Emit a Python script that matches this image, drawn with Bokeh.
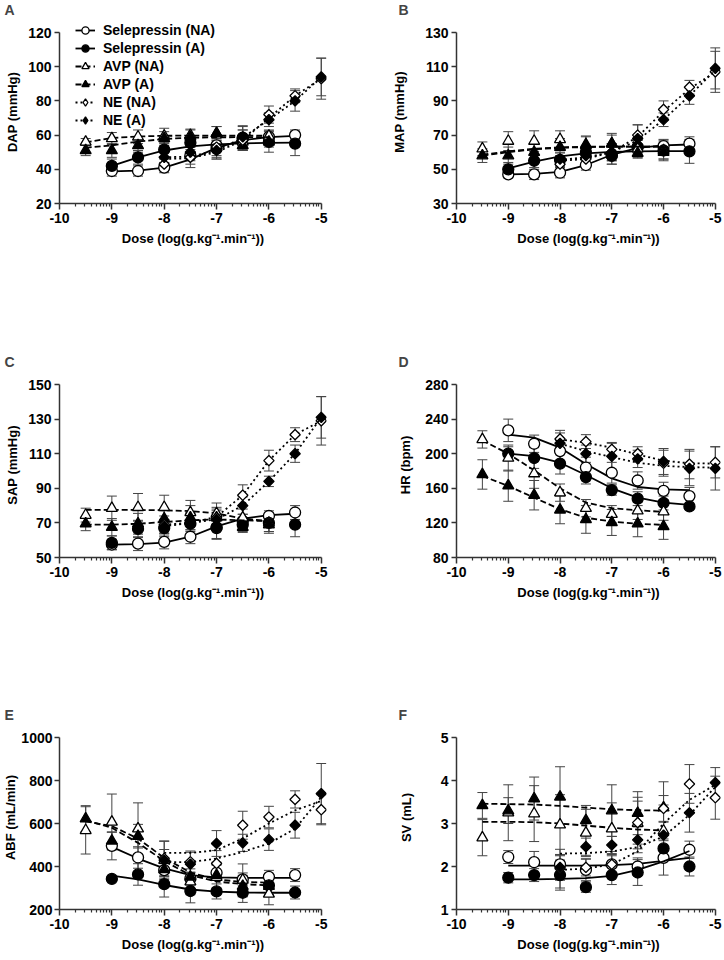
import numpy as np
from bokeh.plotting import figure
from bokeh.models import (Range1d, FixedTicker, ColumnDataSource, Whisker, TeeHead,
                          Legend, LegendItem)
from bokeh.layouts import column, row
from bokeh.embed import file_html
from bokeh.resources import INLINE

FONT = "Liberation Sans"

# ---------------- doses (log g/kg/min) ----------------
DOSE_SEL = [-9.0, -8.5, -8.0, -7.5, -7.0, -6.5, -6.0, -5.5]
DOSE_AVP = [-9.5, -9.0, -8.5, -8.0, -7.5, -7.0, -6.5, -6.0]
DOSE_NE = [-8.0, -7.5, -7.0, -6.5, -6.0, -5.5, -5.0]
X_TICKS = [-10, -9, -8, -7, -6, -5]
SERIES_NAMES = ["Selepressin (NA)", "Selepressin (A)", "AVP (NA)", "AVP (A)", "NE (NA)", "NE (A)"]
X_TITLE = "Dose (log(g.kg\u207b\u00b9.min\u207b\u00b9))"

# ---------------- A: DAP ----------------
DAP_SEL_NA = [39, 39, 41, 48, 54, 58, 59, 60]
DAP_SEL_NA_E = [3, 3, 3, 5, 6, 5, 4, 3]
DAP_SEL_NA_F = [38.8, 39.2, 41, 45.8, 52.5, 57, 58.8, 59.5]
DAP_SEL_A = [42, 47, 51.5, 55.5, 52, 58.5, 56, 55]
DAP_SEL_A_E = [4, 4, 4, 4, 6, 7, 6, 7]
DAP_SEL_A_F = [42, 47, 51, 53.4, 54.6, 55.2, 55.5, 55.6]
DAP_AVP_NA = [56, 58, 59, 59.5, 60, 61, 56, 59.5]
DAP_AVP_NA_E = [2, 3.5, 4, 4.5, 3.5, 4, 4, 3]
DAP_AVP_NA_F = [55.8, 58.3, 59.2, 59.6, 59.7, 59.7, 59.7, 59.7]
DAP_AVP_A = [51, 51, 54, 58, 59, 61, 54, 56]
DAP_AVP_A_E = [3, 4, 4, 4, 4, 4, 3, 3]
DAP_AVP_A_F = [52.6, 54, 56.2, 57.7, 58.5, 58.7, 58.8, 58.8]
DAP_NE_NA = [43, 47, 53, 57, 72, 83, 93]
DAP_NE_NA_E = [3, 6, 6, 6, 5, 4, 12]
DAP_NE_NA_F = [46, 46.5, 50, 57, 70, 83, 93]
DAP_NE_A = [47, 50, 51, 59, 69, 80, 94]
DAP_NE_A_E = [3, 5, 5, 6, 4, 6, 11]
DAP_NE_A_F = [47, 47.5, 51, 58.5, 69, 80, 94]

# ---------------- B: MAP ----------------
MAP_SEL_NA = [47, 47, 48, 52.5, 58, 63, 63.5, 65]
MAP_SEL_NA_E = [2, 3, 3, 3, 5, 4, 4, 4]
MAP_SEL_NA_F = [47, 47.3, 48.5, 52.5, 58.5, 62.5, 64, 64.5]
MAP_SEL_A = [50, 55, 55.5, 60, 58, 63, 61, 60.5]
MAP_SEL_A_E = [4, 4, 4, 4, 5, 5, 6, 7]
MAP_SEL_A_F = [50.5, 54.5, 57.5, 59.3, 60.2, 60.5, 60.6, 60.6]
MAP_AVP_NA = [62, 66.5, 66.5, 67.5, 64, 65, 62, 61]
MAP_AVP_NA_E = [4, 5.5, 6, 5, 5, 6, 5, 5]
MAP_AVP_NA_F = [58.5, 60.5, 62, 62.8, 63.2, 63.3, 63.3, 63.3]
MAP_AVP_A = [58, 58, 60, 63, 64.5, 65, 59.5, 60]
MAP_AVP_A_E = [4, 5, 5, 5, 5, 5, 3, 4]
MAP_AVP_A_F = [58, 60, 61.7, 62.6, 63, 63.2, 63.3, 63.3]
MAP_NE_NA = [53, 56, 60, 70, 85, 98, 107]
MAP_NE_NA_E = [4, 4, 5, 6, 5, 4, 12]
MAP_NE_NA_F = [55, 56, 60, 69, 84, 97, 107]
MAP_NE_A = [56, 58, 60, 68, 79, 93, 109]
MAP_NE_A_E = [4, 4, 5, 8, 4, 5, 12]
MAP_NE_A_F = [55.5, 57, 60, 67, 79, 93, 108]

# ---------------- C: SAP ----------------
SAP_SEL_NA = [57.5, 58, 59, 62, 67, 71, 74, 76]
SAP_SEL_NA_E = [3, 4, 4, 4, 6, 4, 3, 4]
SAP_SEL_NA_F = [57.5, 57.7, 58.6, 62, 68, 72.5, 74.5, 75.3]
SAP_SEL_A = [58.5, 66.5, 67, 69.5, 67.5, 69, 70, 69]
SAP_SEL_A_E = [4, 5, 5, 6, 7, 4, 6, 7]
SAP_SEL_A_F = None
SAP_AVP_NA = [74.5, 78.5, 79, 79, 76, 75.5, 73, 70]
SAP_AVP_NA_E = [4, 7, 8, 7, 7, 6, 5, 5]
SAP_AVP_NA_F = [77.5, 77.5, 77.5, 77.3, 76.8, 75.5, 72.5, 71]
SAP_AVP_A = [69.5, 67.5, 69.5, 72.5, 73, 73, 67.5, 69]
SAP_AVP_A_E = [4, 5, 6, 5, 7, 5, 3, 4]
SAP_AVP_A_F = [69, 69, 69.5, 70.5, 71.5, 72, 71.5, 71]
SAP_NE_NA = [69, 70, 73, 86, 106, 121, 129]
SAP_NE_NA_E = [5, 6, 6, 6, 6, 4, 14]
SAP_NE_NA_F = [69, 70, 73.5, 86, 106, 121, 129]
SAP_NE_A = [68, 70, 72, 80, 94, 110, 131]
SAP_NE_A_E = [4, 5, 5, 5, 3, 5, 12]
SAP_NE_A_F = [68, 70, 72, 80, 94, 110, 131]

# ---------------- D: HR ----------------
HR_SEL_NA = [227, 211.5, 203, 184, 178, 169, 157, 151]
HR_SEL_NA_E = [13, 10, 12, 12, 12, 10, 10, 10]
HR_SEL_NA_F = [222, 218.5, 207, 188, 171.5, 161.5, 158.8, 158]
HR_SEL_A = [200, 195, 188.5, 173, 158, 148, 143, 139]
HR_SEL_A_E = [8, 12, 12, 8, 6, 8, 8, 2]
HR_SEL_A_F = [200, 197.3, 189.6, 175.4, 160, 149.2, 143.5, 140.8]
HR_AVP_NA = [216.5, 195, 177, 155, 137, 130, 134, 133]
HR_AVP_NA_E = [10, 15, 17, 10, 10, 10, 10, 10]
HR_AVP_NA_F = [215.4, 200, 180.8, 160, 143.5, 137, 134.6, 132.7]
HR_AVP_A = [176, 163, 152, 135, 124, 120.5, 119, 116]
HR_AVP_A_E = [17, 18, 17, 16, 16, 15, 15, 15]
HR_AVP_A_F = [174.2, 162.7, 149.2, 135.8, 126, 121.5, 119, 117.7]
HR_NE_NA = [217, 214, 205, 200, 189, 188, 190]
HR_NE_NA_E = [10, 8, 8, 8, 15, 17, 18]
HR_NE_NA_F = [216.5, 212.7, 207, 199, 192, 189, 188.5]
HR_NE_A = [212, 200, 197, 194, 191, 183, 183]
HR_NE_A_E = [12, 10, 15, 10, 15, 20, 25]
HR_NE_A_F = [211.5, 203, 196, 189.6, 185.8, 184.6, 183.8]

# ---------------- E: ABF ----------------
ABF_SEL_NA = [496, 442, 383, 344, 371, 340, 352, 360]
ABF_SEL_NA_E = [65, 50, 30, 30, 35, 30, 30, 30]
ABF_SEL_NA_F = [491, 437, 391, 360, 349, 347, 347, 347]
ABF_SEL_A = [342, 363, 318, 286, 284, 278, 312, 279]
ABF_SEL_A_E = [10, 50, 60, 55, 35, 45, 50, 30]
ABF_SEL_A_F = [358, 340, 314, 293, 283, 279, 278, 278]
ABF_AVP_NA = [568, 607, 576, 429, 329, 350, 337, 272]
ABF_AVP_NA_E = [110, 130, 120, 90, 60, 60, 75, 50]
ABF_AVP_NA_F = [610, 588, 530, 440, 372, 340, 328, 325]
ABF_AVP_A = [623, 519, 541, 386, 352, 360, 309, 309]
ABF_AVP_A_E = [60, 40, 55, 40, 60, 60, 50, 40]
ABF_AVP_A_F = [615, 580, 510, 425, 360, 330, 318, 312]
ABF_NE_NA = [437, 422, 414, 592, 630, 712, 664]
ABF_NE_NA_E = [80, 50, 60, 65, 50, 40, 70]
ABF_NE_NA_F = [463, 463, 476, 530, 600, 661, 705]
ABF_NE_A = [429, 411, 507, 510, 525, 592, 739]
ABF_NE_A_E = [50, 55, 60, 40, 50, 60, 140]
ABF_NE_A_F = [420, 420, 437, 468, 507, 576, 723]

# ---------------- F: SV ----------------
SV_SEL_NA = [2.22, 2.1, 2.05, 1.92, 2.05, 2.0, 2.2, 2.39]
SV_SEL_NA_E = [0.15, 0.25, 0.2, 0.25, 0.2, 0.2, 0.4, 0.2]
SV_SEL_NA_F = [2.02, 2.02, 2.02, 2.02, 2.03, 2.06, 2.13, 2.2]
SV_SEL_A = [1.74, 1.8, 1.8, 1.52, 1.8, 1.86, 2.42, 2.0]
SV_SEL_A_E = [0.12, 0.15, 0.35, 0.12, 0.22, 0.3, 0.22, 0.22]
SV_SEL_A_F = [1.7, 1.7, 1.71, 1.73, 1.78, 1.92, 2.12, 2.36]
SV_AVP_NA = [2.67, 3.25, 3.23, 2.97, 2.78, 2.88, 3.01, 2.83]
SV_AVP_NA_E = [0.42, 0.65, 0.65, 0.7, 0.55, 0.6, 0.6, 0.6]
SV_AVP_NA_F = [3.04, 3.04, 3.03, 3.0, 2.95, 2.9, 2.86, 2.84]
SV_AVP_A = [3.42, 3.3, 3.58, 3.62, 3.07, 3.3, 3.24, 3.37]
SV_AVP_A_E = [0.3, 0.3, 0.5, 0.7, 0.35, 0.6, 0.5, 0.6]
SV_AVP_A_F = [3.46, 3.45, 3.44, 3.41, 3.37, 3.33, 3.31, 3.3]
SV_NE_NA = [1.95, 1.98, 2.05, 3.02, 3.35, 3.92, 3.6]
SV_NE_NA_E = [0.45, 0.2, 0.3, 0.5, 0.3, 0.45, 0.5]
SV_NE_NA_F = [1.92, 1.95, 2.05, 2.35, 3.0, 3.55, 3.9]
SV_NE_A = [1.98, 2.46, 2.5, 2.62, 2.73, 3.25, 3.95]
SV_NE_A_E = [0.3, 0.2, 0.2, 0.3, 0.3, 0.45, 0.35]
SV_NE_A_F = [2.3, 2.31, 2.35, 2.45, 2.7, 3.2, 3.85]

# ---------------- styles / layout ----------------
STYLES = [
    dict(dose=DOSE_SEL, marker="circle", leg=None, fill="white", dash="solid", size=11, angle=0.0),
    dict(dose=DOSE_SEL, marker="circle", leg=None, fill="black", dash="solid", size=11, angle=0.0),
    dict(dose=DOSE_AVP, marker="triangle", leg=None, fill="white", dash="6 3", size=11, angle=0.0),
    dict(dose=DOSE_AVP, marker="triangle", leg=None, fill="black", dash="6 3", size=11, angle=0.0),
    dict(dose=DOSE_NE, marker="square", leg="diamond", fill="white", dash="2 3", size=7.3, angle=np.pi / 4),
    dict(dose=DOSE_NE, marker="square", leg="diamond", fill="black", dash="2 3", size=7.3, angle=np.pi / 4),
]
# columns: figure width, left/right borders, title offset
COLS = [dict(w=340, bl=59, br=14, toff=-55), dict(w=384, bl=116, br=4, toff=-58)]
# rows: figure height, plot-area top, y-axis top and bottom (px inside the figure)
ROWS = [dict(h=352, bt=20, atop=32, abot=203),
        dict(h=353, bt=20, atop=32, abot=205),
        dict(h=255, bt=20, atop=32, abot=204)]
AX = "#333333"
MINOR = [float(d + np.log10(k)) for d in range(-10, -5) for k in range(2, 10)]


def make_panel(letter, ylabel, ymin, ymax, ystep, series, col, rw, ylab_standoff,
               legend=False, label_standoff=3):
    c, r = COLS[col], ROWS[rw]
    bt, bb = r["bt"], r["h"] - r["abot"]
    # plot area a little taller than the axis (axis line still ends at ymax)
    ytop = ymax + (r["atop"] - bt) * (ymax - ymin) / (r["abot"] - r["atop"])
    p = figure(width=c["w"], height=r["h"], x_range=Range1d(-10, -4.9), y_range=Range1d(ymin, ytop),
               output_backend="svg", toolbar_location=None,
               min_border_left=c["bl"], min_border_right=c["br"],
               min_border_top=bt, min_border_bottom=bb)
    p.outline_line_color = None
    p.xgrid.visible = False
    p.ygrid.visible = False
    p.background_fill_color = "white"
    p.border_fill_color = "white"
    p.title.text = letter
    p.title.align = "left"
    p.title.vertical_align = "top"
    p.title.offset = c["toff"]
    p.title.standoff = 2
    p.title.text_font = FONT
    p.title.text_font_size = "14px"
    p.title.text_font_style = "bold"

    xa, ya = p.xaxis[0], p.yaxis[0]
    for ax in (xa, ya):
        ax.axis_line_color = AX
        ax.axis_line_width = 1.5
        ax.major_tick_line_color = AX
        ax.major_tick_line_width = 1.5
        ax.minor_tick_line_color = AX
        ax.minor_tick_line_width = 1.2
        ax.major_tick_in = 0
        ax.minor_tick_in = 0
        ax.major_label_text_font = FONT
        ax.major_label_text_font_size = "14px"
        ax.major_label_text_font_style = "bold"
        ax.major_label_text_color = "black"
        ax.axis_label_text_font = FONT
        ax.axis_label_text_font_size = "13px"
        ax.axis_label_text_font_style = "bold"
        ax.axis_label_text_color = "black"
        ax.major_label_standoff = 3
    xa.ticker = FixedTicker(ticks=X_TICKS, minor_ticks=MINOR)
    xa.bounds = (-10, -5)
    xa.major_tick_out = 6
    xa.minor_tick_out = 3
    xa.major_label_overrides = {t: str(t) for t in X_TICKS}
    xa.axis_label = X_TITLE
    xa.axis_label_standoff = 5
    ya.ticker = FixedTicker(ticks=list(range(ymin, ymax + 1, ystep)), minor_ticks=[])
    ya.bounds = (ymin, ymax)
    ya.minor_tick_line_color = None
    ya.major_tick_out = 5
    ya.major_label_standoff = label_standoff
    ya.axis_label = ylabel
    ya.axis_label_standoff = ylab_standoff

    items = []
    for name, st, (mean, err, fit) in zip(SERIES_NAMES, STYLES, series):
        x = st["dose"]
        src = ColumnDataSource(dict(x=x, y=mean,
                                    upper=[m + e for m, e in zip(mean, err)],
                                    lower=[m - e for m, e in zip(mean, err)]))
        w = Whisker(source=src, base="x", upper="upper", lower="lower",
                    line_color="#444444", line_width=1,
                    upper_head=TeeHead(size=10, line_color="#444444", line_width=1),
                    lower_head=TeeHead(size=10, line_color="#444444", line_width=1))
        p.add_layout(w)
        rends = []
        if fit is not None:
            rends.append(p.line(x, fit, line_color="black", line_width=1.8, line_dash=st["dash"]))
        sr = p.scatter("x", "y", source=src, marker=st["marker"], size=st["size"], angle=st["angle"],
                       fill_color=st["fill"], line_color="black", line_width=1.3)
        if legend:
            if st["leg"] is None:
                rends.append(sr)
            else:
                # legend-only marker (a single undefined point, never drawn in the plot)
                rends.append(p.scatter(x=[np.nan], y=[np.nan], marker=st["leg"], fill_color=st["fill"],
                                       line_color="black", line_width=1.3))
            items.append(LegendItem(label=name, renderers=rends))

    if legend:
        fb = r["abot"]  # plot-area bottom in figure px
        lg = Legend(items=items, location=(16, fb - bt - 6 * 18 - 1), orientation="vertical",
                    padding=0, margin=0, spacing=0, label_height=18, glyph_height=18,
                    glyph_width=20, label_standoff=8, label_text_font=FONT,
                    label_text_font_size="14px", label_text_font_style="bold",
                    label_text_color="black",
                    border_line_color=None, background_fill_alpha=0)
        p.add_layout(lg)
    return p


pA = make_panel("A", "DAP (mmHg)", 20, 120, 20,
                [(DAP_SEL_NA, DAP_SEL_NA_E, DAP_SEL_NA_F), (DAP_SEL_A, DAP_SEL_A_E, DAP_SEL_A_F),
                 (DAP_AVP_NA, DAP_AVP_NA_E, DAP_AVP_NA_F), (DAP_AVP_A, DAP_AVP_A_E, DAP_AVP_A_F),
                 (DAP_NE_NA, DAP_NE_NA_E, DAP_NE_NA_F), (DAP_NE_A, DAP_NE_A_E, DAP_NE_A_F)],
                0, 0, 5, legend=True)
pB = make_panel("B", "MAP (mmHg)", 30, 130, 20,
                [(MAP_SEL_NA, MAP_SEL_NA_E, MAP_SEL_NA_F), (MAP_SEL_A, MAP_SEL_A_E, MAP_SEL_A_F),
                 (MAP_AVP_NA, MAP_AVP_NA_E, MAP_AVP_NA_F), (MAP_AVP_A, MAP_AVP_A_E, MAP_AVP_A_F),
                 (MAP_NE_NA, MAP_NE_NA_E, MAP_NE_NA_F), (MAP_NE_A, MAP_NE_A_E, MAP_NE_A_F)],
                1, 0, 15)
pC = make_panel("C", "SAP (mmHg)", 50, 150, 20,
                [(SAP_SEL_NA, SAP_SEL_NA_E, SAP_SEL_NA_F), (SAP_SEL_A, SAP_SEL_A_E, SAP_SEL_A_F),
                 (SAP_AVP_NA, SAP_AVP_NA_E, SAP_AVP_NA_F), (SAP_AVP_A, SAP_AVP_A_E, SAP_AVP_A_F),
                 (SAP_NE_NA, SAP_NE_NA_E, SAP_NE_NA_F), (SAP_NE_A, SAP_NE_A_E, SAP_NE_A_F)],
                0, 1, 5)
pD = make_panel("D", "HR (bpm)", 80, 280, 40,
                [(HR_SEL_NA, HR_SEL_NA_E, HR_SEL_NA_F), (HR_SEL_A, HR_SEL_A_E, HR_SEL_A_F),
                 (HR_AVP_NA, HR_AVP_NA_E, HR_AVP_NA_F), (HR_AVP_A, HR_AVP_A_E, HR_AVP_A_F),
                 (HR_NE_NA, HR_NE_NA_E, HR_NE_NA_F), (HR_NE_A, HR_NE_A_E, HR_NE_A_F)],
                1, 1, 9)
pE = make_panel("E", "ABF (mL/min)", 200, 1000, 200,
                [(ABF_SEL_NA, ABF_SEL_NA_E, ABF_SEL_NA_F), (ABF_SEL_A, ABF_SEL_A_E, ABF_SEL_A_F),
                 (ABF_AVP_NA, ABF_AVP_NA_E, ABF_AVP_NA_F), (ABF_AVP_A, ABF_AVP_A_E, ABF_AVP_A_F),
                 (ABF_NE_NA, ABF_NE_NA_E, ABF_NE_NA_F), (ABF_NE_A, ABF_NE_A_E, ABF_NE_A_F)],
                0, 2, 0, label_standoff=2)
pF = make_panel("F", "SV (mL)", 1, 5, 1,
                [(SV_SEL_NA, SV_SEL_NA_E, SV_SEL_NA_F), (SV_SEL_A, SV_SEL_A_E, SV_SEL_A_F),
                 (SV_AVP_NA, SV_AVP_NA_E, SV_AVP_NA_F), (SV_AVP_A, SV_AVP_A_E, SV_AVP_A_F),
                 (SV_NE_NA, SV_NE_NA_E, SV_NE_NA_F), (SV_NE_A, SV_NE_A_E, SV_NE_A_F)],
                1, 2, 24)

layout = column(row(pA, pB), row(pC, pD), row(pE, pF))

with open("out.html", "w") as f:
    f.write(file_html(layout, INLINE))
